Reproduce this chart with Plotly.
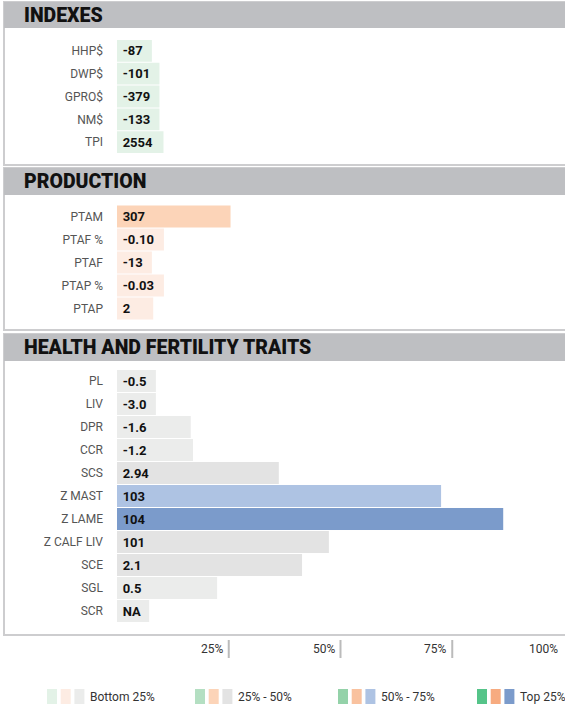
import plotly.graph_objects as go

W, H = 565, 704

# ---------------- data ----------------
idx_labels = ["HHP$", "DWP$", "GPRO$", "NM$", "TPI"]
idx_text = ["-87", "-101", "-379", "-133", "2554"]
idx_pct = [7.8, 9.5, 9.5, 9.5, 10.4]
idx_quart = ["bottom", "bottom", "bottom", "bottom", "bottom"]

prod_labels = ["PTAM", "PTAF %", "PTAF", "PTAP %", "PTAP"]
prod_text = ["307", "-0.10", "-13", "-0.03", "2"]
prod_pct = [25.4, 10.5, 7.8, 10.5, 8.1]
prod_quart = ["q2", "bottom", "bottom", "bottom", "bottom"]

health_labels = ["PL", "LIV", "DPR", "CCR", "SCS", "Z MAST", "Z LAME",
                 "Z CALF LIV", "SCE", "SGL", "SCR"]
health_text = ["-0.5", "-3.0", "-1.6", "-1.2", "2.94", "103", "104",
               "101", "2.1", "0.5", "NA"]
health_pct = [8.7, 8.7, 16.5, 17.0, 36.2, 72.5, 86.4, 47.4, 41.4, 22.4, 7.2]
health_quart = ["bottom", "bottom", "bottom", "bottom", "q2", "q3", "top",
                "q2", "q2", "bottom", "bottom"]

section_titles = ["INDEXES", "PRODUCTION", "HEALTH AND FERTILITY TRAITS"]
axis_ticks = [25, 50, 75, 100]
axis_tick_labels = ["25%", "50%", "75%", "100%"]
legend_labels = ["Bottom 25%", "25% - 50%", "50% - 75%", "Top 25%"]

# ---------------- styles ----------------
palette = {
    "green": {"bottom": "#e3f2e7", "q2": "#b4dfc2", "q3": "#94d2a9", "top": "#55c489"},
    "orange": {"bottom": "#fdece3", "q2": "#fcd4b8", "q3": "#f9c29f", "top": "#f7ab80"},
    "gray": {"bottom": "#ebeceb", "q2": "#e3e3e3", "q3": "#aec3e3", "top": "#7b9bcb"},
}
quart_order = ["bottom", "q2", "q3", "top"]

HEADER_BG = "#bebfc2"
BORDER = "#cdcdcf"
LABEL_COLOR = "#555555"
FONT = "Roboto"


def py(px):
    return 1 - px / H


def px_x(px):
    return px / W


X0, X100 = 117, 564

sections = [
    dict(labels=idx_labels, text=idx_text, pct=idx_pct, quart=idx_quart,
         pal="green", band=(39.5, 153.5), header=(2, 28), box_bottom=165, yax="y"),
    dict(labels=prod_labels, text=prod_text, pct=prod_pct, quart=prod_quart,
         pal="orange", band=(205, 320), header=(168, 195), box_bottom=330, yax="y2"),
    dict(labels=health_labels, text=health_text, pct=health_pct, quart=health_quart,
         pal="gray", band=(369.5, 622.5), header=(334, 361), box_bottom=635, yax="y3"),
]

fig = go.Figure()
shapes = []
annotations = []

for i, s in enumerate(sections):
    colors = [palette[s["pal"]][q] for q in s["quart"]]
    fig.add_trace(go.Bar(
        x=s["pct"], y=s["labels"], orientation="h",
        marker=dict(color=colors, line=dict(width=0)),
        text=["\u2009" + t for t in s["text"]], textposition="inside",
        insidetextanchor="start",
        insidetextfont=dict(family=FONT, size=13, color="#111111", weight="bold"),
        textangle=0, constraintext="none",
        xaxis="x", yaxis=s["yax"], hoverinfo="skip", showlegend=False,
    ))
    # box border (left + bottom)
    shapes.append(dict(type="rect", xref="paper", yref="paper",
                       x0=px_x(4), x1=px_x(W + 5),
                       y0=py(s["box_bottom"]), y1=py(s["header"][0]),
                       line=dict(color=BORDER, width=2), fillcolor="rgba(0,0,0,0)",
                       layer="below"))
    # header band
    shapes.append(dict(type="rect", xref="paper", yref="paper",
                       x0=px_x(4), x1=px_x(W + 5),
                       y0=py(s["header"][1]), y1=py(s["header"][0]),
                       line=dict(width=0), fillcolor=HEADER_BG, layer="below"))
    annotations.append(dict(text=section_titles[i], xref="paper", yref="paper",
                            x=px_x(22), y=py((s["header"][0] + s["header"][1]) / 2),
                            xanchor="left", yanchor="middle", showarrow=False,
                            font=dict(family=FONT, size=19.5, color="#111111", weight=900)))

layout_axes = {}
for i, s in enumerate(sections):
    key = "yaxis" if i == 0 else f"yaxis{i + 1}"
    layout_axes[key] = dict(
        domain=[py(s["band"][1]), py(s["band"][0])],
        anchor="x", type="category", autorange="reversed",
        showgrid=False, zeroline=False, showline=False, ticks="",
        ticklabelstandoff=13, fixedrange=True,
        tickfont=dict(family=FONT, size=12, color=LABEL_COLOR),
    )

# percentile axis marks
for t, lab in zip(axis_ticks, axis_tick_labels):
    if t < 100:
        shapes.append(dict(type="line", xref="x", yref="paper", x0=t, x1=t,
                           y0=py(658), y1=py(640),
                           line=dict(color="#bbbbbb", width=2)))
    annotations.append(dict(text=lab, xref="x", yref="paper", x=t, y=py(649),
                            xanchor="right", yanchor="middle", xshift=-4,
                            showarrow=False,
                            font=dict(family=FONT, size=12, color="#333333")))

# legend
legend_sq_x = [47, 195, 338, 477]
for g, lab in enumerate(legend_labels):
    q = quart_order[g]
    for j, pal in enumerate(["green", "orange", "gray"]):
        x0 = legend_sq_x[g] + j * 13.7
        shapes.append(dict(type="rect", xref="paper", yref="paper",
                           x0=px_x(x0), x1=px_x(x0 + 10), y0=py(704), y1=py(689),
                           line=dict(width=0), fillcolor=palette[pal][q]))
    annotations.append(dict(text=lab, xref="paper", yref="paper",
                            x=px_x(legend_sq_x[g] + 41), y=py(696.5),
                            xanchor="left", yanchor="middle", showarrow=False,
                            font=dict(family=FONT, size=12, color="#333333")))

fig.update_layout(
    width=W, height=H,
    margin=dict(l=0, r=0, t=0, b=0),
    paper_bgcolor="white", plot_bgcolor="white",
    bargap=0.045, showlegend=False,
    xaxis=dict(domain=[px_x(X0), px_x(X100)], range=[0, 100], visible=False,
               fixedrange=True),
    shapes=shapes, annotations=annotations,
    font=dict(family=FONT),
    **layout_axes,
)

fig.write_html(
    "out.html",
    config={"displayModeBar": False},
    post_script="document.body.style.margin='0px';document.body.style.overflow='hidden';",
)
